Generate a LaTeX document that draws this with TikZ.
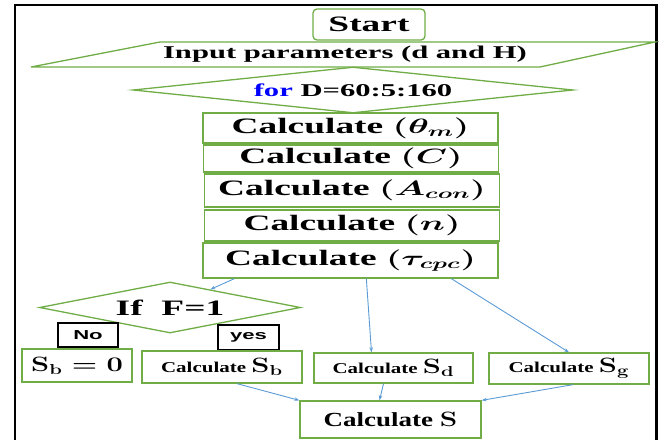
\documentclass[tikz,border=0pt]{standalone}
\usepackage{fontspec}
\setmainfont{Liberation Serif}
\newfontfamily\arialfont{Liberation Sans}
\usepackage{graphicx}
\usetikzlibrary{shapes.geometric, arrows.meta}

\definecolor{boxgreen}{RGB}{112,173,71}
\definecolor{arrowblue}{RGB}{91,155,213}
\definecolor{forblue}{RGB}{0,0,255}

% wide text, as in the stretched figure
\newcommand{\hs}[2][1.7]{\scalebox{#1}[1]{#2}}
\newcommand{\px}[1]{\fontsize{#1}{#1}\selectfont}

\tikzset{
  greenbox/.style={draw=boxgreen, line width=1.3pt, inner sep=0pt},
  calcbox/.style={greenbox, minimum width=295pt, font=\bfseries\boldmath\px{22}},
  resultbox/.style={greenbox, font=\bfseries\boldmath\px{15}},
  decision/.style={greenbox, diamond},
  tagbox/.style={draw=black, line width=1.2pt, inner sep=0pt, font=\arialfont\bfseries\px{13}},
  link/.style={->, draw=arrowblue, line width=0.9pt},
}

\begin{document}
\begin{tikzpicture}[x=1pt, y=-1pt, >={Stealth[length=5pt, width=3.5pt]}]
    \useasboundingbox (0,0) rectangle (659,440);

    % frame, open at the bottom
    \draw[line width=2.5pt] (15,440) -- (15,5) -- (656.5,5) -- (656.5,440);

    \node[greenbox, rounded corners=4pt, minimum width=112pt, minimum height=31pt,
          font=\bfseries\px{22}] (start) at (369,24.5) {\hs{Start}};

    % input parallelogram
    \draw[draw=boxgreen, line width=1.3pt] (160,42) -- (655,42) -- (540,67) -- (31,67) -- cycle;
    \node[font=\bfseries\px{18}] (input) at (345,54.5) {\hs{Input parameters (d and H)}};

    \node[decision, minimum width=440pt, minimum height=46pt, aspect=9.5,
          font=\bfseries\px{18}] (forloop) at (353,90) {\hs{\textcolor{forblue}{for} D=60:5:160}};

    % calculation chain
    \node[calcbox, minimum height=30pt] (theta) at (350.5,128) {\hs{Calculate $(\theta_m)$}};
    \node[calcbox, minimum height=27pt] (cc) at (351,158.5) {\hs{Calculate $(C)$}};
    \node[calcbox, minimum height=33pt] (acon) at (352,190.5) {\hs{Calculate $(A_{con})$}};
    \node[calcbox, minimum height=31pt] (nn) at (352,225.5) {\hs{Calculate $(n)$}};
    \node[calcbox, minimum height=35pt] (tau) at (350.5,260.5) {\hs{Calculate $\left(\tau_{cpc}\right)$}};

    % decision on F
    \node[decision, minimum width=261pt, minimum height=51pt, aspect=5,
          font=\bfseries\px{22}] (iff) at (170,307.5) {\hs{If~~F=1}};
    \node[tagbox, minimum width=60pt, minimum height=24pt] (no) at (88,335) {\hs{No}};
    \node[tagbox, minimum width=61pt, minimum height=25pt] (yes) at (248.5,337.5) {\hs{yes}};

    % results
    \node[greenbox, minimum width=110pt, minimum height=33pt, font=\bfseries\boldmath\px{21}]
        (sbzero) at (77,365.5) {\hs[1.4]{$\mathbf{S_b} = 0$}};
    \node[resultbox, minimum width=160pt, minimum height=32pt]
        (calcsb) at (222,367) {\hs[1.4]{Calculate {\px{20}$\mathbf{S_b}$}}};
    \node[resultbox, minimum width=159pt, minimum height=30pt]
        (calcsd) at (393.5,368) {\hs[1.4]{Calculate {\px{20}$\mathbf{S_d}$}}};
    \node[resultbox, minimum width=160pt, minimum height=31pt]
        (calcsg) at (569,368.5) {\hs[1.4]{Calculate {\px{20}$\mathbf{S_g}$}}};
    \node[greenbox, minimum width=181pt, minimum height=37pt, font=\bfseries\boldmath\px{20}]
        (calcs) at (390.5,419.5) {\hs[1.35]{Calculate $\mathbf{S}$}};

    % connectors
    \draw[link] ([xshift=32pt]tau.south west) -- (iff);
    \draw[link] ([xshift=164pt]tau.south west) -- ([xshift=-22pt]calcsd.north);
    \draw[link] ([xshift=249pt]tau.south west) -- (calcsg.north);
    \draw[link] ([xshift=15pt]calcsb.south) -- (calcs.north west);
    \draw[link] ([xshift=-10pt]calcsd.south) -- ([xshift=-11pt]calcs.north);
    \draw[link] ([xshift=4pt]calcsg.south) -- (calcs.north east);
\end{tikzpicture}
\end{document}
